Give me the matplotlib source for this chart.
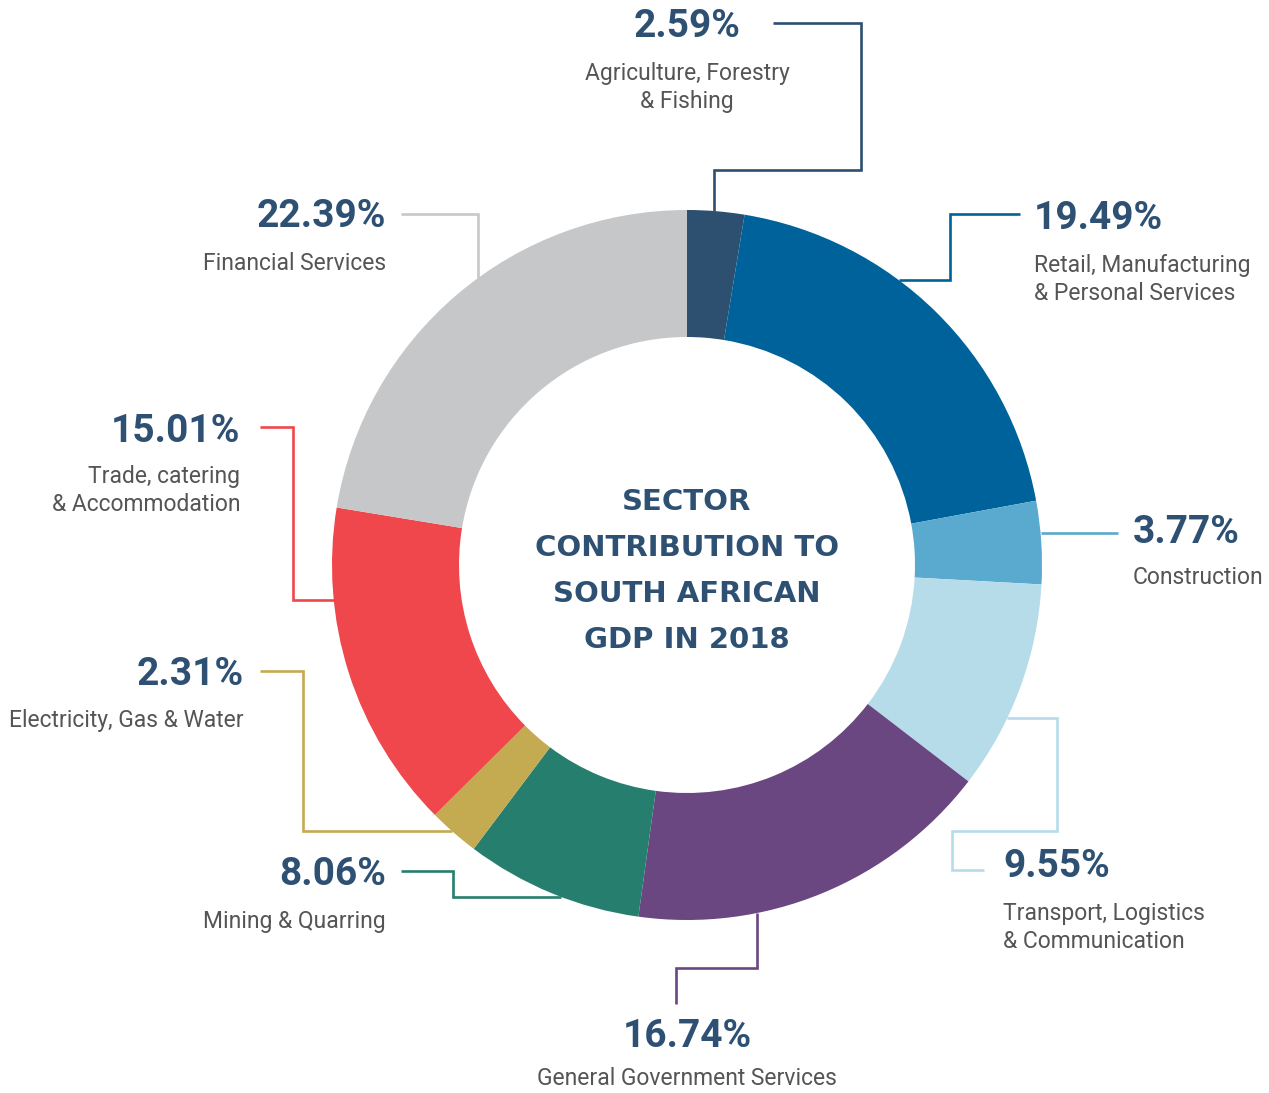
import numpy as np
import matplotlib
matplotlib.use("Agg")
import matplotlib.pyplot as plt

# ---- data ----
sectors = [
    "Agriculture, Forestry\n& Fishing",
    "Retail, Manufacturing\n& Personal Services",
    "Construction",
    "Transport, Logistics\n& Communication",
    "General Government Services",
    "Mining & Quarring",
    "Electricity, Gas & Water",
    "Trade, catering\n& Accommodation",
    "Financial Services",
]
shares = [2.59, 19.49, 3.77, 9.55, 16.74, 8.06, 2.31, 15.01, 22.39]
colors = ["#2d4f70", "#00629b", "#5aa9cf", "#b6dcea", "#6a4780",
          "#267f6e", "#c4aa50", "#ef474c", "#c6c7c9"]
title = "SECTOR\nCONTRIBUTION TO\nSOUTH AFRICAN\nGDP IN 2018"

# ---- layout (image pixel coordinates, y downward) ----
W, H = 1269, 1093
CX, CY, R, RIN = 687, 565, 355, 228

# leader: (first segment kind, coordinate, side), following waypoints
leaders = [
    ("v", 714, -1, [(714, 170), (861, 170), (861, 23), (773, 23)]),
    ("h", 280, +1, [(950, 280), (950, 214), (1020, 214)]),
    ("h", 533, +1, [(1118, 533)]),
    ("h", 718, +1, [(1057, 718), (1057, 831), (952, 831), (952, 870), (984, 870)]),
    ("v", 757, +1, [(757, 968), (676, 968), (676, 1004)]),
    ("h", 897, -1, [(453, 897), (453, 871), (401, 871)]),
    ("h", 831, -1, [(303, 831), (303, 671), (260, 671)]),
    ("h", 600, -1, [(293, 600), (293, 427), (260, 427)]),
    ("v", 478, -1, [(478, 214), (401, 214)]),
]
# text: (x, pct baseline, label first baseline, ha)
text_pos = [
    (687, 37, 80, "center"),
    (1034, 229, 272, "left"),
    (1133, 543, 584, "left"),
    (1003, 877, 920, "left"),
    (687, 1047, 1085, "center"),
    (386, 885, 928, "right"),
    (244, 685, 727, "right"),
    (240, 442, 483, "right"),
    (386, 227, 270, "right"),
]

NAVY = "#2d5073"
GREY = "#555555"

fig = plt.figure(figsize=(W / 100, H / 100), dpi=100)
ax = fig.add_axes([0, 0, 1, 1])


def fy(y):
    return H - y


ax.pie(shares, colors=colors, startangle=90, counterclock=False,
       center=(CX, fy(CY)), radius=R,
       wedgeprops=dict(width=R - RIN, linewidth=0), frame=True)
ax.set_xlim(0, W)
ax.set_ylim(0, H)
ax.set_aspect("equal")
ax.axis("off")

for (kind, c, side, pts), col in zip(leaders, colors):
    if kind == "h":
        sx = CX + side * np.sqrt(R ** 2 - (c - CY) ** 2)
        start = (sx, c)
    else:
        sy = CY + side * np.sqrt(R ** 2 - (c - CX) ** 2)
        start = (c, sy)
    path = [start] + pts
    xs = [p[0] for p in path]
    ys = [fy(p[1]) for p in path]
    ax.plot(xs, ys, color=col, lw=1.9, zorder=0.5, solid_capstyle="butt",
            solid_joinstyle="miter")

for name, val, (x, yb, yl, ha) in zip(sectors, shares, text_pos):
    ax.text(x, fy(yb), f"{val:.2f}%", ha=ha, va="baseline",
            fontfamily="Roboto", fontweight="bold", fontsize=28, color=NAVY)
    lines = name.split("\n")
    for i, ln in enumerate(lines):
        ax.text(x, fy(yl + i * 28), ln, ha=ha, va="baseline",
                fontfamily="Roboto", fontsize=16.5, color=GREY)

tlines = title.split("\n")
for i, ln in enumerate(tlines):
    ax.text(CX, fy(510 + i * 46), ln, ha="center", va="baseline",
            fontfamily="DejaVu Sans", fontweight="bold", fontsize=21, color=NAVY)

fig.savefig("out.png", dpi=100, facecolor="white")
